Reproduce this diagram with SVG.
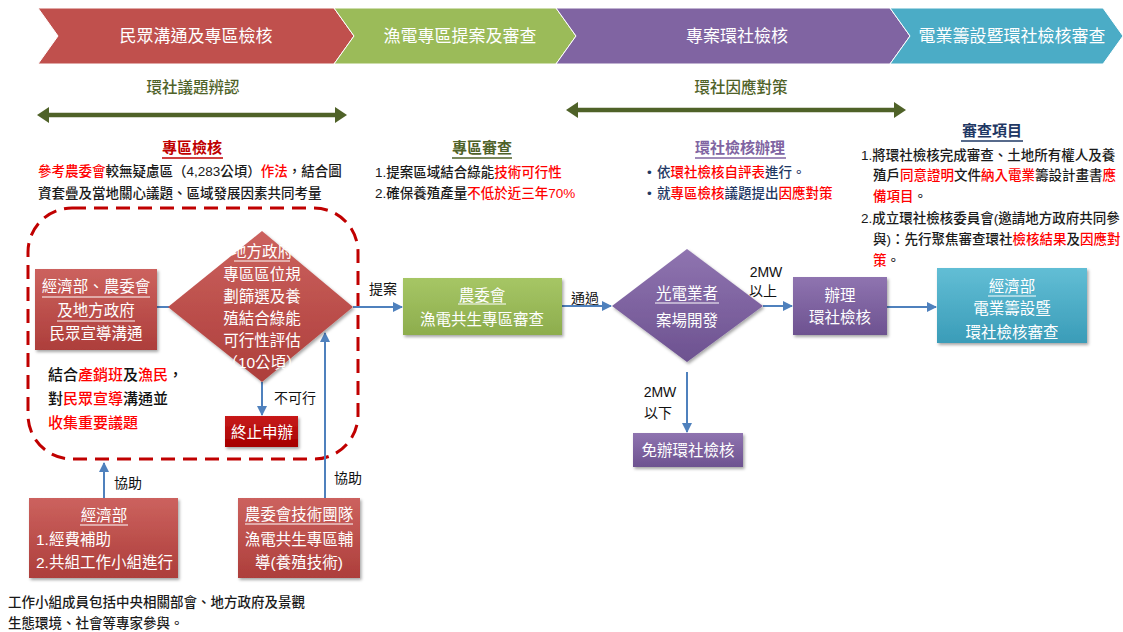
<svg xmlns="http://www.w3.org/2000/svg" width="1123" height="632" viewBox="0 0 1123 632">
<defs>
<style>
text{font-family:'Liberation Sans','Noto Sans CJK TC',sans-serif;dominant-baseline:central}
.chev{font-size:17px;fill:#fff;text-anchor:middle}
.band{font-size:15.5px;fill:#4F6228;text-anchor:middle;font-weight:500}
.body{font-size:13.5px;fill:#1a1a1a;font-weight:500}
.r{fill:#FF0000}
.nv{fill:#1F3864}
.wt{font-size:15.5px;fill:#fff;text-anchor:middle}
.lbl{font-size:14px;fill:#111;text-anchor:middle}
.conn{stroke:#4F81BD;stroke-width:2;fill:none}
.ul{stroke:#fff;stroke-width:1}
</style>
<linearGradient id="gRed" x1="0" y1="0" x2="0" y2="1"><stop offset="0" stop-color="#CC625E"/><stop offset="1" stop-color="#AD3E3B"/></linearGradient>
<linearGradient id="gDark" x1="0" y1="0" x2="0" y2="1"><stop offset="0" stop-color="#C81A1A"/><stop offset="1" stop-color="#A50000"/></linearGradient>
<linearGradient id="gGreen" x1="0" y1="0" x2="0" y2="1"><stop offset="0" stop-color="#A6C665"/><stop offset="1" stop-color="#8DAD4D"/></linearGradient>
<linearGradient id="gPurple" x1="0" y1="0" x2="0" y2="1"><stop offset="0" stop-color="#8F74B0"/><stop offset="1" stop-color="#6D5290"/></linearGradient>
<linearGradient id="gCyan" x1="0" y1="0" x2="0" y2="1"><stop offset="0" stop-color="#62BED5"/><stop offset="1" stop-color="#3A9CB8"/></linearGradient>
<filter id="sh" x="-10%" y="-10%" width="125%" height="130%"><feDropShadow dx="1.5" dy="2" stdDeviation="1.5" flood-color="#000" flood-opacity="0.35"/></filter>
<marker id="ah" viewBox="0 0 10 10" refX="9" refY="5" markerWidth="5" markerHeight="5" orient="auto" markerUnits="strokeWidth"><path d="M0,0 L10,5 L0,10 z" fill="#4F81BD"/></marker>
</defs>
<rect width="1123" height="632" fill="#fff"/>

<g id="chevrons">
<polygon points="38,8 334,8 354,36 334,64 38,64 58,36" fill="#C0504D" stroke="#fff" stroke-width="1"/>
<polygon points="334,8 556,8 576,36 556,64 334,64 354,36" fill="#9BBB59" stroke="#fff" stroke-width="1"/>
<polygon points="556,8 890,8 910,36 890,64 556,64 576,36" fill="#8064A2" stroke="#fff" stroke-width="1"/>
<polygon points="890,8 1103,8 1123,36 1103,64 890,64 910,36" fill="#4BACC6" stroke="#fff" stroke-width="1"/>
<text class="chev" x="196" y="36">民眾溝通及專區檢核</text>
<text class="chev" x="460" y="36">漁電專區提案及審查</text>
<text class="chev" x="737" y="36">專案環社檢核</text>
<text class="chev" x="1012" y="36">電業籌設暨環社檢核審查</text>
</g>

<g id="bands">
<text class="band" x="193" y="87">環社議題辨認</text>
<line x1="46" y1="115" x2="338" y2="115" stroke="#4F6228" stroke-width="4.5"/>
<polygon points="37,115 49,107 49,123" fill="#4F6228"/>
<polygon points="347,115 335,107 335,123" fill="#4F6228"/>
<text class="band" x="741" y="87">環社因應對策</text>
<line x1="575" y1="110" x2="897" y2="110" stroke="#4F6228" stroke-width="4.5"/>
<polygon points="566,110 578,102 578,118" fill="#4F6228"/>
<polygon points="906,110 894,102 894,118" fill="#4F6228"/>
</g>

<g id="note-zhuanqu-jianhe">
<text x="192" y="147" text-anchor="middle" font-size="15" font-weight="bold" fill="#C00000">專區檢核</text>
<line x1="162" y1="158" x2="223" y2="158" stroke="#C00000" stroke-width="1.5"/>
<text class="body" x="38" y="171"><tspan class="r">參考農委會</tspan>較無疑慮區（4,283公頃）<tspan class="r">作法</tspan>，結合圖</text>
<text class="body" x="38" y="193">資套疊及當地關心議題、區域發展因素共同考量</text>
</g>

<g id="note-zhuanqu-shencha">
<text x="482" y="147" text-anchor="middle" font-size="15" font-weight="bold" fill="#4F6228">專區審查</text>
<line x1="452" y1="158" x2="512" y2="158" stroke="#4F6228" stroke-width="1.5"/>
<text class="body" x="375" y="172" font-size="14">1.提案區域結合綠能<tspan class="r">技術可行性</tspan></text>
<text class="body" x="375" y="193" font-size="14">2.確保養殖產量<tspan class="r">不低於近三年70%</tspan></text>
</g>

<g id="note-banli">
<text x="740" y="147" text-anchor="middle" font-size="15" font-weight="bold" fill="#8064A2">環社檢核辦理</text>
<line x1="695" y1="158" x2="786" y2="158" stroke="#8064A2" stroke-width="1.5"/>
<text class="body nv" x="647" y="172">•</text>
<text class="body nv" x="657" y="172">依<tspan class="r">環社檢核自評表</tspan>進行。</text>
<text class="body nv" x="647" y="193">•</text>
<text class="body nv" x="657" y="193">就<tspan class="r">專區檢核</tspan>議題提出<tspan class="r">因應對策</tspan></text>
</g>

<g id="note-shencha-xiangmu">
<text x="992" y="130" text-anchor="middle" font-size="15" font-weight="bold" fill="#1F3864">審查項目</text>
<line x1="961" y1="141" x2="1023" y2="141" stroke="#1F3864" stroke-width="1.5"/>
<text class="body" x="861" y="155">1.將環社檢核完成審查、土地所有權人及養</text>
<text class="body" x="873" y="175">殖戶<tspan class="r">同意證明</tspan>文件<tspan class="r">納入電業</tspan>籌設計畫書<tspan class="r">應</tspan></text>
<text class="body" x="873" y="196"><tspan class="r">備項目</tspan>。</text>
<text class="body" x="861" y="218">2.成立環社檢核委員會(邀請地方政府共同參</text>
<text class="body" x="873" y="239">與)：先行聚焦審查環社<tspan class="r">檢核結果</tspan>及<tspan class="r">因應對</tspan></text>
<text class="body" x="873" y="260"><tspan class="r">策</tspan>。</text>
</g>

<g id="dashed-zone">
<rect x="28" y="208" width="330" height="251" rx="44" ry="44" fill="none" stroke="#C00000" stroke-width="3" stroke-dasharray="14 8"/>
</g>

<g id="connectors">
<line class="conn" x1="157" y1="307" x2="169" y2="307"/>
<line class="conn" x1="262" y1="382" x2="262" y2="415" marker-end="url(#ah)"/>
<line class="conn" x1="104" y1="498" x2="104" y2="463" marker-end="url(#ah)"/>
<line class="conn" x1="325" y1="498" x2="325" y2="333" marker-end="url(#ah)"/>
<line class="conn" x1="353" y1="307" x2="402" y2="307" marker-end="url(#ah)"/>
<line class="conn" x1="562" y1="306" x2="611" y2="306" marker-end="url(#ah)"/>
<line class="conn" x1="763" y1="306" x2="792" y2="306" marker-end="url(#ah)"/>
<line class="conn" x1="687" y1="372" x2="687" y2="432" marker-end="url(#ah)"/>
<line class="conn" x1="887" y1="307" x2="936" y2="307" marker-end="url(#ah)"/>
<text class="lbl" x="295" y="398">不可行</text>
<text class="lbl" x="128" y="483">協助</text>
<text class="lbl" x="348" y="478">協助</text>
<text class="lbl" x="383" y="289">提案</text>
<text class="lbl" x="585" y="298">通過</text>
<text class="lbl" x="766" y="272">2MW</text>
<text class="lbl" x="763" y="291">以上</text>
<text class="lbl" x="660" y="392">2MW</text>
<text class="lbl" x="658" y="413">以下</text>
</g>

<g id="node-xuandao">
<rect x="35" y="269" width="122" height="81" fill="url(#gRed)" filter="url(#sh)"/>
<text class="wt" x="96" y="286" font-size="15">經濟部、農委會</text>
<line class="ul" x1="42" y1="297" x2="150" y2="297"/>
<text class="wt" x="96" y="310" font-size="15">及地方政府</text>
<line class="ul" x1="57" y1="321" x2="135" y2="321"/>
<text class="wt" x="96" y="333" font-size="15">民眾宣導溝通</text>
</g>

<g id="node-pinggu">
<polygon points="262,231 353,307 262,382 168,307" fill="url(#gRed)" filter="url(#sh)"/>
<text class="wt" x="262" y="251" font-size="14">地方政府</text>
<line class="ul" x1="234" y1="261" x2="290" y2="261"/>
<text class="wt" x="262" y="274" font-size="14">專區區位規</text>
<text class="wt" x="262" y="296" font-size="14">劃篩選及養</text>
<text class="wt" x="262" y="318" font-size="14">殖結合綠能</text>
<text class="wt" x="262" y="340" font-size="14">可行性評估</text>
<text class="wt" x="262" y="362" font-size="14">（10公頃）</text>
</g>

<g id="note-jiehe">
<text x="48" y="374" font-size="15" fill="#111" font-weight="500">結合<tspan class="r">產銷班</tspan>及<tspan class="r">漁民</tspan>，</text>
<text x="48" y="398" font-size="15" fill="#111" font-weight="500">對<tspan class="r">民眾宣導</tspan>溝通並</text>
<text x="48" y="422" font-size="15" fill="#FF0000" font-weight="500">收集重要議題</text>
</g>

<g id="node-zhongzhi">
<rect x="225" y="416" width="73" height="31" fill="url(#gDark)" filter="url(#sh)"/>
<text class="wt" x="262" y="432" font-size="16">終止申辦</text>
</g>

<g id="node-moea">
<rect x="29" y="498" width="149" height="80" fill="url(#gRed)" filter="url(#sh)"/>
<text class="wt" x="104" y="515">經濟部</text>
<line class="ul" x1="80" y1="525" x2="128" y2="525"/>
<text x="36" y="539" font-size="15.5" fill="#fff">1.經費補助</text>
<text x="36" y="562" font-size="15.5" fill="#fff">2.共組工作小組進行</text>
</g>

<g id="node-coa-team">
<rect x="238" y="498" width="122" height="80" fill="url(#gRed)" filter="url(#sh)"/>
<text class="wt" x="299" y="514">農委會技術團隊</text>
<line class="ul" x1="245" y1="524" x2="353" y2="524"/>
<text class="wt" x="299" y="539">漁電共生專區輔</text>
<text class="wt" x="299" y="562">導(養殖技術)</text>
</g>

<g id="footer">
<text class="body" x="8" y="602">工作小組成員包括中央相關部會、地方政府及景觀</text>
<text class="body" x="8" y="623">生態環境、社會等專家參與。</text>
</g>

<g id="node-coa-review">
<rect x="403" y="278" width="159" height="57" fill="url(#gGreen)" filter="url(#sh)"/>
<text class="wt" x="482" y="295">農委會</text>
<line class="ul" x1="458" y1="304" x2="506" y2="304"/>
<text class="wt" x="482" y="319">漁電共生專區審查</text>
</g>

<g id="node-developer">
<polygon points="687,249 763,306 687,362 612,306" fill="url(#gPurple)" filter="url(#sh)"/>
<text class="wt" x="687" y="293">光電業者</text>
<line class="ul" x1="655" y1="303" x2="719" y2="303"/>
<text class="wt" x="687" y="320">案場開發</text>
</g>

<g id="node-exempt">
<rect x="633" y="433" width="110" height="34" fill="url(#gPurple)" filter="url(#sh)"/>
<text class="wt" x="688" y="450" font-size="16">免辦環社檢核</text>
</g>

<g id="node-banli">
<rect x="793" y="277" width="94" height="58" fill="url(#gPurple)" filter="url(#sh)"/>
<text class="wt" x="840" y="295">辦理</text>
<text class="wt" x="840" y="317">環社檢核</text>
</g>

<g id="node-moea-review">
<rect x="937" y="268" width="150" height="75" fill="url(#gCyan)" filter="url(#sh)"/>
<text class="wt" x="1012" y="286">經濟部</text>
<line class="ul" x1="988" y1="296" x2="1036" y2="296"/>
<text class="wt" x="1012" y="308">電業籌設暨</text>
<text class="wt" x="1012" y="332">環社檢核審查</text>
</g>
</svg>
